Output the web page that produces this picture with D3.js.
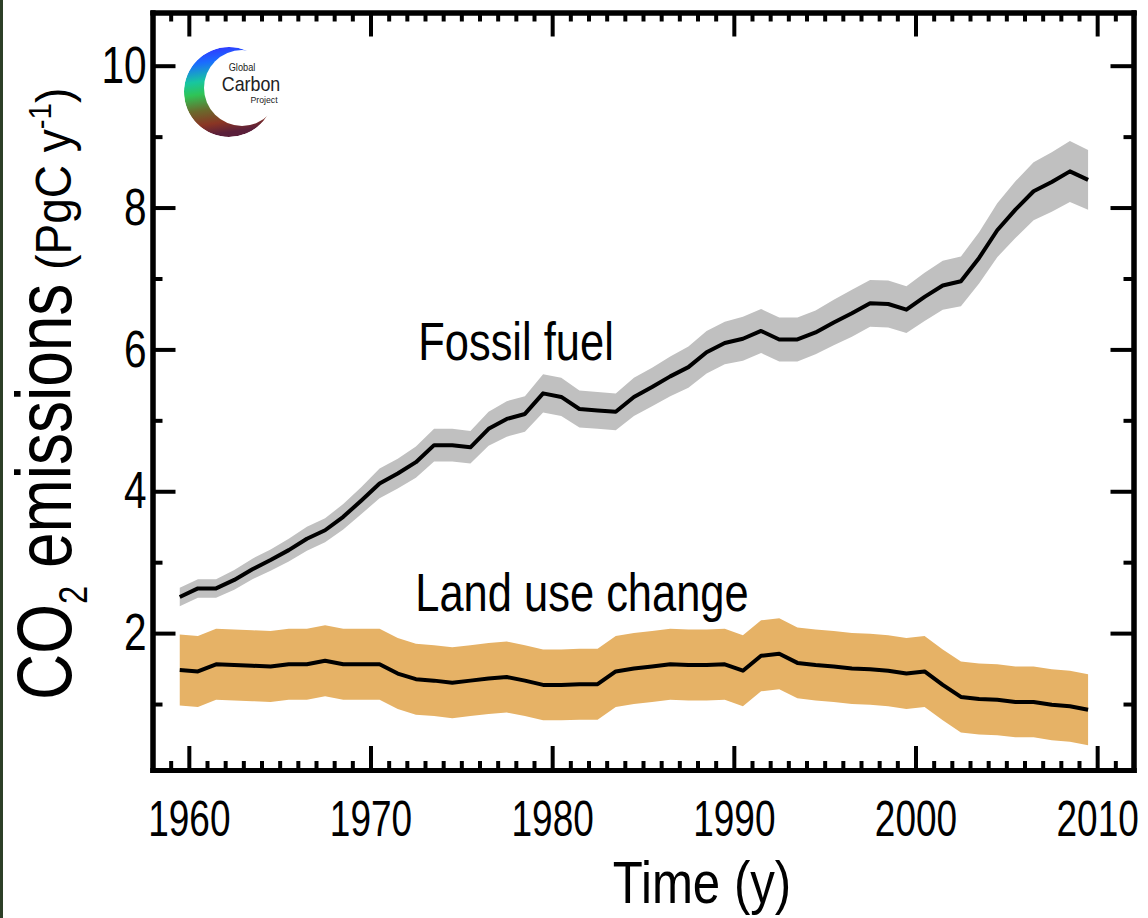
<!DOCTYPE html>
<html>
<head>
<meta charset="utf-8">
<script src="https://cdn.jsdelivr.net/npm/d3@7"></script>
<style>
  html, body { margin: 0; padding: 0; background: #fff; }
  svg { display: block; }
  text { font-family: "Liberation Sans", Arial, Helvetica, sans-serif; fill: #000; }
</style>
</head>
<body>
<svg id="chart" width="1148" height="918"></svg>
<script>
// ---- data (PgC per year) ----
const years = [1959, 1960, 1961, 1962, 1963, 1964, 1965, 1966, 1967, 1968, 1969,
  1970, 1971, 1972, 1973, 1974, 1975, 1976, 1977, 1978, 1979,
  1980, 1981, 1982, 1983, 1984, 1985, 1986, 1987, 1988, 1989,
  1990, 1991, 1992, 1993, 1994, 1995, 1996, 1997, 1998, 1999,
  2000, 2001, 2002, 2003, 2004, 2005, 2006, 2007, 2008, 2009];

const fossilFuel = [2.51, 2.63, 2.63, 2.75, 2.90, 3.03, 3.17, 3.33, 3.45, 3.64, 3.87,
  4.11, 4.25, 4.41, 4.65, 4.65, 4.62, 4.88, 5.02, 5.09, 5.38,
  5.33, 5.16, 5.14, 5.12, 5.33, 5.47, 5.62, 5.75, 5.96, 6.09,
  6.15, 6.26, 6.14, 6.14, 6.24, 6.38, 6.51, 6.65, 6.64, 6.56,
  6.74, 6.90, 6.96, 7.29, 7.68, 7.97, 8.23, 8.36, 8.51, 8.39];
const fossilLow = [2.38, 2.50, 2.50, 2.61, 2.76, 2.88, 3.01, 3.16, 3.28, 3.46, 3.68,
  3.90, 4.04, 4.19, 4.42, 4.42, 4.39, 4.64, 4.77, 4.84, 5.11,
  5.06, 4.90, 4.88, 4.86, 5.06, 5.20, 5.34, 5.46, 5.66, 5.79,
  5.84, 5.95, 5.83, 5.83, 5.93, 6.06, 6.18, 6.32, 6.31, 6.23,
  6.40, 6.56, 6.61, 6.93, 7.30, 7.57, 7.82, 7.94, 8.08, 7.97];
const fossilHigh = [2.64, 2.76, 2.76, 2.89, 3.05, 3.18, 3.33, 3.50, 3.62, 3.82, 4.06,
  4.32, 4.46, 4.63, 4.88, 4.88, 4.85, 5.12, 5.27, 5.34, 5.65,
  5.60, 5.42, 5.40, 5.38, 5.60, 5.74, 5.90, 6.04, 6.26, 6.39,
  6.46, 6.57, 6.45, 6.45, 6.55, 6.70, 6.84, 6.98, 6.97, 6.89,
  7.08, 7.25, 7.31, 7.65, 8.06, 8.37, 8.64, 8.78, 8.94, 8.81];

const landUse = [1.48, 1.46, 1.56, 1.55, 1.54, 1.53, 1.56, 1.56, 1.61, 1.56, 1.56,
  1.56, 1.43, 1.35, 1.33, 1.30, 1.33, 1.36, 1.38, 1.33, 1.27,
  1.27, 1.28, 1.28, 1.46, 1.50, 1.53, 1.56, 1.55, 1.55, 1.56,
  1.47, 1.68, 1.71, 1.58, 1.55, 1.53, 1.50, 1.49, 1.47, 1.43,
  1.46, 1.27, 1.10, 1.07, 1.06, 1.03, 1.03, 0.99, 0.97, 0.92];
const landUseLow = [0.98, 0.96, 1.06, 1.05, 1.04, 1.03, 1.06, 1.06, 1.11, 1.06, 1.06,
  1.06, 0.93, 0.85, 0.83, 0.80, 0.83, 0.86, 0.88, 0.83, 0.77,
  0.77, 0.78, 0.78, 0.96, 1.00, 1.03, 1.06, 1.05, 1.05, 1.06,
  0.97, 1.18, 1.21, 1.08, 1.05, 1.03, 1.00, 0.99, 0.97, 0.93,
  0.96, 0.77, 0.60, 0.57, 0.56, 0.53, 0.53, 0.49, 0.47, 0.42];
const landUseHigh = [1.98, 1.96, 2.06, 2.05, 2.04, 2.03, 2.06, 2.06, 2.11, 2.06, 2.06,
  2.06, 1.93, 1.85, 1.83, 1.80, 1.83, 1.86, 1.88, 1.83, 1.77,
  1.77, 1.78, 1.78, 1.96, 2.00, 2.03, 2.06, 2.05, 2.05, 2.06,
  1.97, 2.18, 2.21, 2.08, 2.05, 2.03, 2.00, 1.99, 1.97, 1.93,
  1.96, 1.77, 1.60, 1.57, 1.56, 1.53, 1.53, 1.49, 1.47, 1.42];

// ---- ticks ----
const xMajorTicks = [1960, 1970, 1980, 1990, 2000, 2010];
const xMinorTicks = [1959, 1961, 1962, 1963, 1964, 1965, 1966, 1967, 1968, 1969,
  1971, 1972, 1973, 1974, 1975, 1976, 1977, 1978, 1979,
  1981, 1982, 1983, 1984, 1985, 1986, 1987, 1988, 1989,
  1991, 1992, 1993, 1994, 1995, 1996, 1997, 1998, 1999,
  2001, 2002, 2003, 2004, 2005, 2006, 2007, 2008, 2009, 2011];
const yMajorTicks = [2, 4, 6, 8, 10];
const yMinorTicks = [1, 3, 5, 7, 9];

// ---- layout ----
const plot = { left: 152.5, right: 1133.5, top: 12.5, bottom: 770 };
const condense = 0.82;           // narrow typeface look
const fontFamily = '"Liberation Sans", Arial, Helvetica, sans-serif';

const svg = d3.select('#chart');

const x = d3.scaleLinear().domain([1958, 2012]).range([plot.left, plot.right]);
const y = d3.scaleLinear().domain([0.07, 10.75]).range([plot.bottom, plot.top]);

const rows = years.map((yr, i) => ({
  t: yr + 0.5,
  ff: fossilFuel[i], ffLo: fossilLow[i], ffHi: fossilHigh[i],
  lu: landUse[i], luLo: landUseLow[i], luHi: landUseHigh[i]
}));

// thin dark strip on the left edge
svg.append('rect').attr('x', 0).attr('y', 0).attr('width', 3).attr('height', 918)
  .attr('fill', '#2d3f27');

// ---- uncertainty bands ----
const bandLU = d3.area().x(d => x(d.t)).y0(d => y(d.luLo)).y1(d => y(d.luHi));
const bandFF = d3.area().x(d => x(d.t)).y0(d => y(d.ffLo)).y1(d => y(d.ffHi));
svg.append('path').datum(rows).attr('d', bandLU).attr('fill', '#e6b266');
svg.append('path').datum(rows).attr('d', bandFF).attr('fill', '#c0c0c0');

// ---- central estimates ----
const lineLU = d3.line().x(d => x(d.t)).y(d => y(d.lu));
const lineFF = d3.line().x(d => x(d.t)).y(d => y(d.ff));
svg.append('path').datum(rows).attr('d', lineLU)
  .attr('fill', 'none').attr('stroke', '#000').attr('stroke-width', 4)
  .attr('stroke-linejoin', 'round');
svg.append('path').datum(rows).attr('d', lineFF)
  .attr('fill', 'none').attr('stroke', '#000').attr('stroke-width', 4)
  .attr('stroke-linejoin', 'round');

// ---- axes (ticks point inward on all four sides) ----
function styleAxis(g) {
  g.attr('font-family', fontFamily).attr('font-size', 52);
  g.select('.domain').attr('stroke-width', 5).attr('stroke-linecap', 'square');
  g.selectAll('.tick line').attr('stroke-width', 4);
}
function addAxis(axis, tx, ty) {
  return svg.append('g').attr('transform', `translate(${tx},${ty})`).call(axis).call(styleAxis);
}

// bottom
addAxis(d3.axisBottom(x).tickValues(xMinorTicks).tickSize(-9).tickSizeOuter(0).tickFormat(''), 0, plot.bottom);
const gxb = addAxis(d3.axisBottom(x).tickValues(xMajorTicks).tickSize(-24).tickSizeOuter(0)
  .tickPadding(31).tickFormat(d3.format('d')), 0, plot.bottom);
gxb.attr('font-size', 50);
gxb.selectAll('.tick text').attr('transform', 'scale(0.74,1)');

// top
addAxis(d3.axisTop(x).tickValues(xMinorTicks).tickSize(-9).tickSizeOuter(0).tickFormat(''), 0, plot.top);
addAxis(d3.axisTop(x).tickValues(xMajorTicks).tickSize(-24).tickSizeOuter(0).tickFormat(''), 0, plot.top);

// left
addAxis(d3.axisLeft(y).tickValues(yMinorTicks).tickSize(-10).tickSizeOuter(0).tickFormat(''), plot.left, 0);
const gyl = addAxis(d3.axisLeft(y).tickValues(yMajorTicks).tickSize(-23).tickSizeOuter(0)
  .tickPadding(6).tickFormat(d3.format('d')), plot.left, 0);
gyl.selectAll('.tick text').attr('x', -6 / 0.78).attr('transform', 'scale(0.78,1)');

// right
addAxis(d3.axisRight(y).tickValues(yMinorTicks).tickSize(-10).tickSizeOuter(0).tickFormat(''), plot.right, 0);
addAxis(d3.axisRight(y).tickValues(yMajorTicks).tickSize(-23).tickSizeOuter(0).tickFormat(''), plot.right, 0);

// ---- series labels ----
function label(txt, cx, baseline, size) {
  svg.append('text')
    .attr('transform', `translate(${cx},${baseline}) scale(${condense},1)`)
    .attr('text-anchor', 'middle').attr('font-size', size).text(txt);
}
label('Fossil fuel', 516, 360, 53);
label('Land use change', 582, 611, 53);

// ---- axis titles ----
label('Time (y)', 702, 903, 60);

const yTitle = svg.append('text')
  .attr('transform', `translate(71,700) rotate(-90) scale(${condense},1)`)
  .attr('font-size', 78);
yTitle.append('tspan').text('CO');
yTitle.append('tspan').attr('font-size', 40).attr('dy', 16).text('2');
yTitle.append('tspan').attr('dy', -16).text(' emissions');
const titleLen = yTitle.node().getComputedTextLength() * condense;

const yUnits = svg.append('text')
  .attr('transform', `translate(71,${700 - titleLen - 14}) rotate(-90) scale(0.92,1)`)
  .attr('font-size', 50);
yUnits.append('tspan').text('(PgC y');
yUnits.append('tspan').attr('font-size', 32).attr('dy', -20).text('-1');
yUnits.append('tspan').attr('dy', 20).text(')');

// ---- Global Carbon Project badge ----
const defs = svg.append('defs');
const grad = defs.append('linearGradient').attr('id', 'gcpGrad')
  .attr('x1', 0).attr('y1', 0).attr('x2', 0.15).attr('y2', 1);
[['0%', '#3a24ff'], ['20%', '#1a6cff'], ['40%', '#17c6a0'], ['54%', '#2fc456'],
 ['72%', '#6a6a2c'], ['88%', '#8a3524'], ['100%', '#5a1f3a']]
  .forEach(([o, c]) => grad.append('stop').attr('offset', o).attr('stop-color', c));
const mask = defs.append('mask').attr('id', 'gcpMask');
mask.append('rect').attr('x', 150).attr('y', 20).attr('width', 160).attr('height', 150).attr('fill', '#000');
mask.append('circle').attr('cx', 229).attr('cy', 92).attr('r', 45).attr('fill', '#fff');
mask.append('circle').attr('cx', 242).attr('cy', 88).attr('r', 38).attr('fill', '#000');
svg.append('circle').attr('cx', 229).attr('cy', 92).attr('r', 45)
  .attr('fill', 'url(#gcpGrad)').attr('mask', 'url(#gcpMask)');

function badgeText(txt, cx, baseline, size, sx) {
  svg.append('text')
    .attr('transform', `translate(${cx},${baseline}) scale(${sx},1)`)
    .attr('text-anchor', 'middle').attr('font-size', size)
    .style('fill', '#222').text(txt);
}
badgeText('Global', 242, 71, 10, 0.92);
badgeText('Carbon', 251, 91, 21, 0.85);
badgeText('Project', 264, 103, 9.5, 0.92);
</script>
</body>
</html>
